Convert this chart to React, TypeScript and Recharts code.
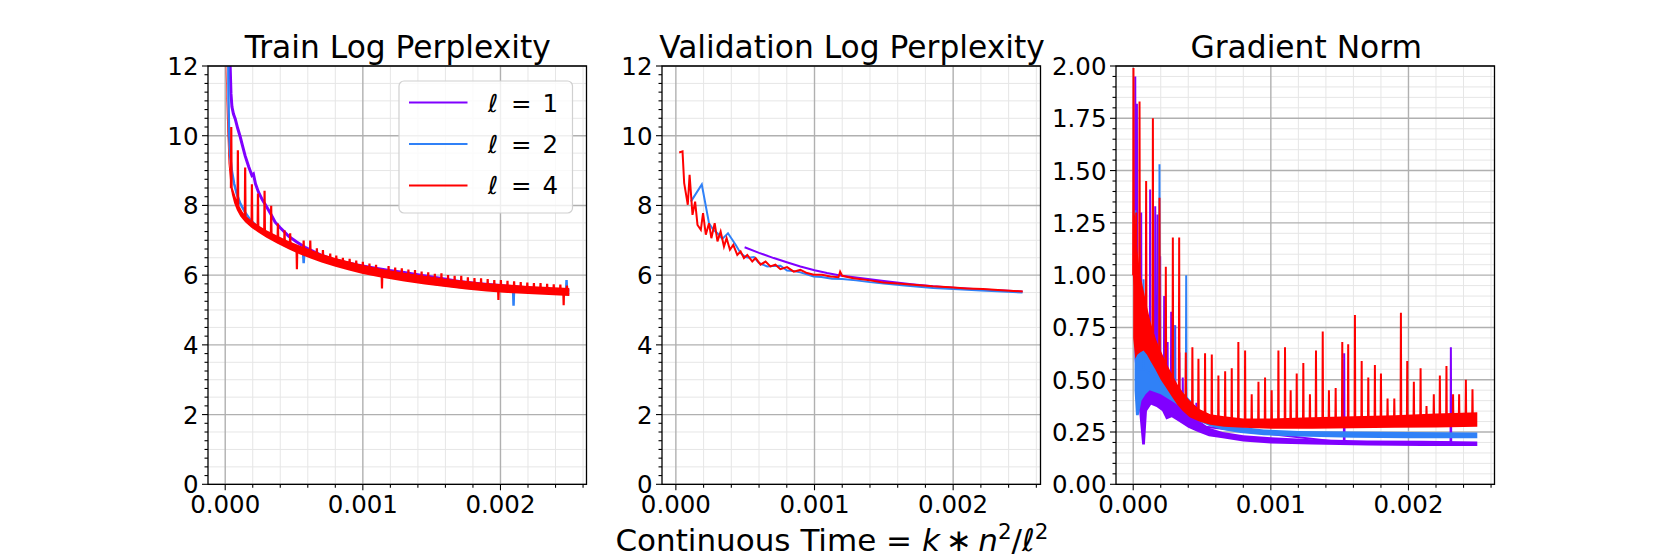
import React from 'react';
import {
  ComposedChart,
  Line,
  Area,
  XAxis,
  YAxis,
  ReferenceLine,
  ReferenceArea,
  Legend,
} from 'recharts';

const FONT = '"DejaVu Sans", sans-serif';
const PURPLE = '#8000ff';
const BLUE = '#3081f7';
const RED = '#ff0000';

// x values are continuous time in units of 1e-5
const xMajor = [0, 100, 200];
const perpMajor = [0, 2, 4, 6, 8, 10, 12];
const gradMajor = [0, 0.25, 0.5, 0.75, 1, 1.25, 1.5, 1.75, 2];
const legendLabels = ['1', '2', '4'];
const legendColors = [PURPLE, BLUE, RED];
const titles = ['Train Log Perplexity', 'Validation Log Perplexity', 'Gradient Norm'];

// ---- train log perplexity ----
const trainL1: [number, number][] = [
  [3.2, 13.0], [3.6, 12.0], [4.2, 11.2], [4.9, 10.83], [6.0, 10.62], [7.3, 10.48], [9.0, 10.22],
  [10.9, 9.97], [12.5, 9.72], [14.5, 9.42], [17.0, 9.12], [19.4, 8.86], [20.5, 8.9], [22.0, 8.62],
  [24.2, 8.38], [27.0, 8.16], [30.3, 7.95], [33.0, 7.76], [36.3, 7.52], [40.0, 7.36], [46.0, 7.12],
  [52.0, 6.95], [58.0, 6.8], [64.0, 6.68], [70.0, 6.57], [78.0, 6.46], [87.0, 6.37], [96.0, 6.29],
  [106.0, 6.22], [118.0, 6.14], [130.0, 6.08], [142.0, 6.0], [155.0, 5.92], [170.0, 5.82],
  [185.0, 5.75], [200.0, 5.7], [215.0, 5.65], [230.0, 5.6], [250.0, 5.55],
];
const trainL2: [number, number][] = [
  [2.2, 13.0], [2.4, 11.0], [2.8, 10.0], [3.5, 9.45], [4.8, 9.0], [6.5, 8.62], [8.5, 8.32],
  [11.0, 8.05], [14.5, 7.8], [18.0, 7.6], [21.8, 7.45], [26.0, 7.3], [30.0, 7.18], [35.0, 7.05],
  [40.0, 6.95], [46.0, 6.82], [52.0, 6.7], [56.6, 6.63], [57.0, 6.34], [57.4, 6.62], [64.0, 6.52],
  [72.0, 6.42], [80.0, 6.32], [90.0, 6.22], [100.0, 6.12], [115.0, 6.02], [130.0, 5.9],
  [150.0, 5.76], [170.0, 5.66], [190.0, 5.59], [209.2, 5.54], [209.5, 5.12], [209.8, 5.54],
  [230.0, 5.5], [247.6, 5.46], [248.0, 5.86], [248.4, 5.46], [250.0, 5.45],
];
const trainL4Band: [number, number, number][] = [
  [0.4, 11.8, 13.0], [1.2, 10.5, 11.2], [2.4, 9.2, 9.65], [3.5, 8.72, 9.02], [4.8, 8.32, 8.56],
  [6.5, 8.06, 8.26], [8.5, 7.86, 8.06], [11.0, 7.68, 7.88], [14.5, 7.52, 7.72], [19.0, 7.36, 7.57],
  [24.0, 7.22, 7.43], [30.0, 7.07, 7.29], [38.0, 6.9, 7.13], [46.0, 6.74, 6.98], [54.0, 6.6, 6.85],
  [62.0, 6.48, 6.73], [70.0, 6.36, 6.61], [80.0, 6.24, 6.49], [90.0, 6.13, 6.39], [100.0, 6.03, 6.29],
  [115.0, 5.92, 6.17], [130.0, 5.82, 6.07], [145.0, 5.73, 5.98], [160.0, 5.66, 5.9],
  [175.0, 5.59, 5.83], [190.0, 5.53, 5.77], [205.0, 5.49, 5.73], [220.0, 5.46, 5.69],
  [235.0, 5.43, 5.66], [250.0, 5.4, 5.63],
];
// spikes: [x, base, tip]
const trainL4Spikes: [number, number, number][] = [
  [4.4, 8.5, 10.25], [9.2, 7.98, 9.58], [14.5, 7.62, 9.09], [19.4, 7.46, 8.61], [23.8, 7.33, 8.34],
  [28.6, 7.2, 8.42], [33.4, 7.1, 7.99], [38.3, 7.0, 7.48], [43.1, 6.9, 7.29], [47.2, 6.84, 7.2],
  [52.1, 6.75, 6.17], [57.0, 6.68, 6.99], [61.8, 6.6, 6.99], [66.6, 6.54, 6.77], [71.0, 6.48, 6.72],
  [76.3, 6.42, 6.62], [80.7, 6.36, 6.56], [85.5, 6.31, 6.5], [90.4, 6.26, 6.47], [95.2, 6.21, 6.42],
  [100.0, 6.16, 6.38], [104.8, 6.12, 6.33], [109.6, 6.08, 6.3], [113.9, 6.05, 5.62],
  [118.7, 6.02, 6.26], [123.5, 5.99, 6.22], [128.3, 5.96, 6.2], [133.1, 5.93, 6.16],
  [137.9, 5.9, 6.15], [142.7, 5.87, 6.1], [147.5, 5.84, 6.08], [152.3, 5.81, 6.04],
  [157.1, 5.79, 6.05], [161.9, 5.77, 6.0], [166.7, 5.75, 5.98], [171.5, 5.73, 5.98],
  [176.3, 5.71, 5.94], [181.1, 5.69, 5.92], [185.9, 5.67, 5.91], [190.7, 5.65, 5.89],
  [195.5, 5.64, 5.86], [198.5, 5.63, 5.29], [200.3, 5.62, 5.86], [205.1, 5.61, 5.84],
  [209.9, 5.6, 5.82], [214.7, 5.59, 5.8], [219.5, 5.58, 5.79], [224.3, 5.57, 5.77],
  [229.1, 5.56, 5.77], [233.9, 5.55, 5.75], [238.7, 5.54, 5.74], [243.5, 5.53, 5.73],
  [245.9, 5.52, 5.14], [248.3, 5.52, 5.7],
];

// ---- validation log perplexity ----
const valL1: [number, number][] = [
  [49.6, 6.8], [60.0, 6.64], [70.6, 6.49], [80.0, 6.37], [89.8, 6.25], [100.0, 6.14], [109.0, 6.06],
  [118.5, 5.99], [130.0, 5.93], [150.0, 5.83], [170.0, 5.74], [185.6, 5.68], [200.0, 5.64],
  [220.0, 5.59], [250.0, 5.53],
];
const valL2: [number, number][] = [
  [10.8, 8.11], [18.7, 8.6], [23.9, 7.49], [27.0, 7.3], [30.0, 7.2], [33.5, 7.04], [37.6, 7.2],
  [43.1, 6.87], [46.7, 6.63], [50.3, 6.52], [53.0, 6.5], [56.3, 6.52], [59.9, 6.35], [65.9, 6.25],
  [70.0, 6.26], [75.4, 6.27], [80.2, 6.13], [85.0, 6.12], [89.8, 6.08], [99.4, 5.96], [105.0, 5.95],
  [112.6, 5.9], [120.0, 5.89], [130.0, 5.85], [140.0, 5.8], [150.0, 5.76], [165.0, 5.7],
  [185.6, 5.63], [200.0, 5.6], [220.0, 5.56], [250.0, 5.5],
];
const valL4: [number, number][] = [
  [2.4, 9.52], [4.8, 9.55], [6.0, 8.64], [8.6, 8.02], [9.9, 8.88], [12.0, 7.73], [13.9, 8.11],
  [15.6, 7.44], [18.0, 7.3], [19.6, 7.78], [21.6, 7.16], [23.9, 7.49], [25.6, 7.06], [28.0, 7.49],
  [30.0, 6.97], [32.3, 7.25], [34.7, 6.82], [36.6, 7.06], [39.0, 6.73], [41.4, 6.87], [44.3, 6.58],
  [46.7, 6.68], [49.1, 6.49], [51.5, 6.58], [55.1, 6.39], [57.5, 6.49], [61.1, 6.3], [64.7, 6.39],
  [68.2, 6.25], [71.8, 6.3], [75.4, 6.17], [80.2, 6.23], [85.0, 6.1], [89.8, 6.15], [94.6, 6.06],
  [99.4, 6.01], [105.4, 6.01], [111.4, 5.96], [117.3, 5.94], [118.5, 6.1], [120.0, 5.98],
  [128.0, 5.91], [140.0, 5.85], [149.7, 5.79], [160.0, 5.76], [173.6, 5.72], [185.0, 5.68],
  [197.6, 5.65], [210.0, 5.62], [221.5, 5.6], [235.0, 5.57], [250.2, 5.53],
];

// ---- gradient norm ----
const gradL1Band: [number, number, number][] = [
  [1, 0.6, 1.25], [3, 0.45, 0.95], [5, 0.3, 0.8], [6.5, 0.19, 0.65], [8.5, 0.19, 0.62],
  [10, 0.35, 0.6], [13, 0.38, 0.56], [17, 0.37, 0.53], [21, 0.35, 0.5], [24, 0.31, 0.48],
  [28, 0.32, 0.45], [33, 0.3, 0.41], [40, 0.27, 0.35], [47, 0.25, 0.31], [55, 0.23, 0.27],
  [65, 0.22, 0.25], [80, 0.205, 0.235], [100, 0.195, 0.225], [130, 0.19, 0.215],
  [170, 0.185, 0.21], [210, 0.183, 0.208], [250, 0.183, 0.205],
];
const gradL1Spikes: [number, number, number][] = [
  [1.5, 0.9, 1.95], [2.7, 0.8, 1.82], [5.8, 0.5, 1.3], [12.3, 0.45, 1.41], [16.0, 0.45, 1.33],
  [17.7, 0.44, 1.29], [19.6, 0.42, 1.09], [22.5, 0.4, 0.9], [25.0, 0.38, 0.68], [27.6, 0.38, 0.825],
  [30.5, 0.36, 0.76], [33.5, 0.34, 0.63], [36.0, 0.33, 0.51], [45.9, 0.28, 0.39],
  [153.3, 0.2, 0.626], [230.8, 0.2, 0.655],
];
const gradL2Band: [number, number, number][] = [
  [1, 0.45, 0.95], [2, 0.33, 0.75], [4, 0.33, 0.68], [6, 0.4, 0.66], [9, 0.43, 0.64],
  [12, 0.45, 0.62], [16, 0.44, 0.59], [20, 0.43, 0.56], [25, 0.41, 0.52], [30, 0.39, 0.49],
  [36, 0.36, 0.44], [42, 0.33, 0.4], [48, 0.3, 0.35], [55, 0.28, 0.32], [65, 0.26, 0.29],
  [78, 0.245, 0.275], [95, 0.235, 0.262], [120, 0.228, 0.255], [160, 0.222, 0.252],
  [200, 0.22, 0.25], [250, 0.22, 0.248],
];
const gradL2Spikes: [number, number, number][] = [
  [1.5, 0.7, 1.31], [3.5, 0.55, 0.92], [7.5, 0.55, 0.98], [19.1, 0.5, 1.53], [30.0, 0.45, 0.76],
  [38.5, 0.4, 1.0],
];
const gradL4Band: [number, number, number][] = [
  [0, 0.7, 1.3], [1.5, 0.6, 1.28], [3, 0.62, 1.12], [5, 0.63, 1.01], [7.5, 0.64, 0.93],
  [10, 0.62, 0.85], [12.5, 0.59, 0.78], [16, 0.55, 0.7], [20, 0.5, 0.64], [24, 0.46, 0.58],
  [28, 0.42, 0.53], [32, 0.38, 0.48], [36, 0.35, 0.44], [41, 0.32, 0.4], [48, 0.3, 0.36],
  [56, 0.285, 0.335], [66, 0.275, 0.325], [80, 0.27, 0.315], [100, 0.265, 0.315],
  [130, 0.265, 0.32], [160, 0.268, 0.325], [190, 0.27, 0.33], [220, 0.272, 0.338],
  [250, 0.275, 0.345],
];
const gradL4Spikes: [number, number, number][] = [
  [0.2, 1.0, 1.99], [2.2, 0.9, 1.3], [4.6, 0.9, 1.83], [9.4, 0.8, 1.45], [14.3, 0.72, 1.75],
  [19.1, 0.62, 1.37], [23.7, 0.56, 1.04], [28.8, 0.5, 1.18], [33.4, 0.45, 1.18], [38.2, 0.41, 0.63],
  [43.0, 0.38, 0.655], [47.4, 0.35, 0.6], [52.2, 0.33, 0.626], [57.1, 0.31, 0.62], [61.9, 0.3, 0.52],
  [66.8, 0.3, 0.54], [71.6, 0.29, 0.555], [76.4, 0.29, 0.68], [81.3, 0.29, 0.64], [86.1, 0.29, 0.43],
  [91.0, 0.29, 0.49], [95.8, 0.29, 0.51], [100.6, 0.29, 0.45], [105.5, 0.29, 0.64],
  [110.3, 0.29, 0.655], [114.4, 0.29, 0.45], [118.8, 0.29, 0.53], [123.6, 0.29, 0.58],
  [128.4, 0.29, 0.43], [132.8, 0.29, 0.64], [137.7, 0.29, 0.73], [142.2, 0.29, 0.45],
  [147.1, 0.29, 0.46], [151.9, 0.29, 0.68], [156.2, 0.29, 0.67], [161.1, 0.29, 0.81],
  [166.0, 0.29, 0.59], [170.8, 0.3, 0.51], [175.6, 0.3, 0.57], [180.0, 0.3, 0.53],
  [184.8, 0.3, 0.41], [189.7, 0.3, 0.41], [194.5, 0.3, 0.82], [199.1, 0.3, 0.59],
  [203.9, 0.3, 0.49], [208.8, 0.3, 0.555], [213.1, 0.3, 0.374], [218.4, 0.3, 0.43],
  [222.8, 0.3, 0.52], [227.6, 0.3, 0.565], [232.4, 0.3, 0.43], [236.8, 0.3, 0.43],
  [241.7, 0.31, 0.5], [246.5, 0.31, 0.454],
];

// layout
const YW = 70;
const PW = 378.5;
const RM = 10;
const PT = 66;
const PH = 418.3;
const XH = 60;
const TICK_FS = 24.5;

const pts = (a: [number, number][]) => a.map(([x, y]) => ({ x, y }));
const band = (a: [number, number, number][]) => a.map(([x, lo, hi]) => ({ x, r: [lo, hi] }));
const spikes = (a: [number, number, number][]) =>
  a.flatMap(([x, b, t]) => [
    { x: x - 0.25, y: b },
    { x, y: t },
    { x: x + 0.25, y: b },
  ]);
const steps = (a: number, b: number, s: number) => {
  const out: number[] = [];
  for (let v = a; v <= b + 1e-9; v += s) out.push(Math.round(v * 1000) / 1000);
  return out;
};
const has = (arr: number[], v: number) => arr.some((m) => Math.abs(m - v) < 1e-6);

interface PanelProps {
  left: number;
  xDomain: [number, number];
  yMajor: number[];
  yTickStep: number;
  yGridStep: number;
  yFmt: (v: number) => string;
  legend?: boolean;
  children: React.ReactNode;
}

const LegendBox = () => (
  <svg width={178} height={136} style={{ display: 'block', overflow: 'visible' }}>
    <rect x={1} y={1} width={173.5} height={132} rx={5} fill="#fff" fillOpacity={0.8} stroke="#d0d0d0" strokeWidth={1.2} />
    {legendLabels.map((lab, i) => {
      const cy = 22.6 + i * 41.4;
      return (
        <g key={lab}>
          <line x1={11} x2={69.5} y1={cy} y2={cy} stroke={legendColors[i]} strokeWidth={2} />
          <text x={90} y={cy + 9} fontFamily={FONT} fontSize={TICK_FS} fontStyle="italic">ℓ</text>
          <text x={113} y={cy + 9} fontFamily={FONT} fontSize={TICK_FS}>=</text>
          <text x={144.5} y={cy + 9} fontFamily={FONT} fontSize={TICK_FS}>{lab}</text>
        </g>
      );
    })}
  </svg>
);

const Panel = ({ left, xDomain, yMajor, yTickStep, yGridStep, yFmt, legend, children }: PanelProps) => {
  const yMin = yMajor[0];
  const yMax = yMajor[yMajor.length - 1];
  const xTicks = steps(-20, 280, 20).filter((v) => v >= xDomain[0] && v <= xDomain[1]);
  const xMinorGrid = xTicks.filter((v) => !has(xMajor, v));
  const yTicks = steps(yMin, yMax, yTickStep);
  const yMinorGrid = steps(yMin, yMax, yGridStep).filter((v) => !has(yMajor, v));
  const bottom = PT + PH;

  const xTick = (p: any) => {
    const v = p.payload.value;
    const major = has(xMajor, v);
    const x = p.x;
    return (
      <g>
        <line x1={x} x2={x} y1={bottom} y2={bottom + (major ? 6 : 3.5)} stroke="#000" strokeWidth={1.1} />
        {major && (
          <text x={x} y={bottom + 29} textAnchor="middle" fontFamily={FONT} fontSize={TICK_FS} fill="#000">
            {(v / 1e5).toFixed(3)}
          </text>
        )}
      </g>
    );
  };
  const yTick = (p: any) => {
    const v = p.payload.value;
    const major = has(yMajor, v);
    const y = p.y;
    return (
      <g>
        <line x1={YW} x2={YW - (major ? 6 : 3.5)} y1={y} y2={y} stroke="#000" strokeWidth={1.1} />
        {major && (
          <text x={YW - 9.5} y={y + 9} textAnchor="end" fontFamily={FONT} fontSize={TICK_FS} fill="#000">
            {yFmt(v)}
          </text>
        )}
      </g>
    );
  };

  return (
    <div style={{ position: 'absolute', left: left - YW, top: 0 }}>
      <ComposedChart
        width={YW + PW + RM}
        height={PT + PH + XH}
        margin={{ top: PT, right: RM, bottom: 0, left: 0 }}
      >
        <XAxis
          type="number"
          dataKey="x"
          domain={xDomain}
          allowDataOverflow
          ticks={xTicks}
          interval={0}
          tickLine={false}
          axisLine={false}
          height={XH}
          tick={xTick}
        />
        <YAxis
          type="number"
          domain={[yMin, yMax]}
          allowDataOverflow
          ticks={yTicks}
          interval={0}
          tickLine={false}
          axisLine={false}
          width={YW}
          tick={yTick}
        />
        {yMinorGrid.map((v) => (
          <ReferenceLine key={`ym${v}`} y={v} stroke="#e6e6e6" strokeWidth={1} zIndex={-30} />
        ))}
        {xMinorGrid.map((v) => (
          <ReferenceLine key={`xm${v}`} x={v} stroke="#e6e6e6" strokeWidth={1} zIndex={-30} />
        ))}
        {yMajor.map((v) => (
          <ReferenceLine key={`yM${v}`} y={v} stroke="#b0b0b0" strokeWidth={1.4} zIndex={-20} />
        ))}
        {xMajor.map((v) => (
          <ReferenceLine key={`xM${v}`} x={v} stroke="#b0b0b0" strokeWidth={1.4} zIndex={-20} />
        ))}
        {children}
        <ReferenceArea
          x1={xDomain[0]}
          x2={xDomain[1]}
          y1={yMin}
          y2={yMax}
          fill="none"
          fillOpacity={0}
          stroke="#000"
          strokeWidth={1.3}
          zIndex={900}
        />
        {legend && (
          <Legend
            layout="horizontal"
            verticalAlign="middle"
            align="center"
            wrapperStyle={{ left: 398 - left + YW, top: 80, width: 178, height: 136 }}
            content={() => <LegendBox />}
          />
        )}
      </ComposedChart>
    </div>
  );
};

const lineProps = {
  type: 'linear' as const,
  dataKey: 'y',
  dot: false,
  activeDot: false,
  isAnimationActive: false,
  legendType: 'none' as const,
};
const bandProps = {
  type: 'linear' as const,
  dataKey: 'r',
  stroke: 'none',
  fillOpacity: 1,
  isAnimationActive: false,
  legendType: 'none' as const,
};

const perpFmt = (v: number) => String(v);
const gradFmt = (v: number) => v.toFixed(2);

export default function App() {
  return (
    <div
      style={{
        position: 'absolute',
        left: 0,
        top: 0,
        width: 1661,
        height: 554,
        background: '#fff',
        overflow: 'hidden',
        fontFamily: FONT,
      }}
    >
      <Panel left={207.5} xDomain={[-12.5, 262.5]} yMajor={perpMajor} yTickStep={0.25} yGridStep={0.5} yFmt={perpFmt} legend>
        <Line {...lineProps} data={pts(trainL1)} stroke={PURPLE} strokeWidth={3} zIndex={401} />
        <Line {...lineProps} data={pts(trainL2)} stroke={BLUE} strokeWidth={2.5} zIndex={402} />
        <Area {...bandProps} data={band(trainL4Band)} fill={RED} zIndex={403} />
        <Line {...lineProps} data={spikes(trainL4Spikes)} stroke={RED} strokeWidth={2.2} zIndex={404} />
      </Panel>
      <Panel left={661.7} xDomain={[-10, 263]} yMajor={perpMajor} yTickStep={0.25} yGridStep={0.5} yFmt={perpFmt}>
        <Line {...lineProps} data={pts(valL1)} stroke={PURPLE} strokeWidth={2} zIndex={401} />
        <Line {...lineProps} data={pts(valL2)} stroke={BLUE} strokeWidth={2} zIndex={402} />
        <Line {...lineProps} data={pts(valL4)} stroke={RED} strokeWidth={2} zIndex={403} />
      </Panel>
      <Panel left={1116} xDomain={[-12.5, 262.5]} yMajor={gradMajor} yTickStep={0.05} yGridStep={0.05} yFmt={gradFmt}>
        <Area {...bandProps} data={band(gradL1Band)} fill={PURPLE} zIndex={401} />
        <Line {...lineProps} data={spikes(gradL1Spikes)} stroke={PURPLE} strokeWidth={2} zIndex={402} />
        <Area {...bandProps} data={band(gradL2Band)} fill={BLUE} zIndex={403} />
        <Line {...lineProps} data={spikes(gradL2Spikes)} stroke={BLUE} strokeWidth={2} zIndex={404} />
        <Area {...bandProps} data={band(gradL4Band)} fill={RED} zIndex={405} />
        <Line {...lineProps} data={spikes(gradL4Spikes)} stroke={RED} strokeWidth={2} zIndex={406} />
      </Panel>
      <svg
        width={1661}
        height={554}
        style={{ position: 'absolute', left: 0, top: 0, pointerEvents: 'none' }}
      >
        {[207.5, 661.7, 1116].map((l, i) => (
          <text key={titles[i]} x={l + PW / 2 + 1} y={58} textAnchor="middle" fontFamily={FONT} fontSize={31.3} fill="#000">
            {titles[i]}
          </text>
        ))}
        <text x={832} y={551} textAnchor="middle" fontFamily={FONT} fontSize={31} fill="#000">
          Continuous Time ={' '}
          <tspan fontStyle="italic">k</tspan>
          <tspan>{'\u2009\u2217\u2009'}</tspan>
          <tspan fontStyle="italic">n</tspan>
          <tspan dy={-12} fontSize={21.5}>2</tspan>
          <tspan dy={12}>/</tspan>
          <tspan fontStyle="italic">ℓ</tspan>
          <tspan dy={-12} fontSize={21.5}>2</tspan>
        </text>
      </svg>
    </div>
  );
}
